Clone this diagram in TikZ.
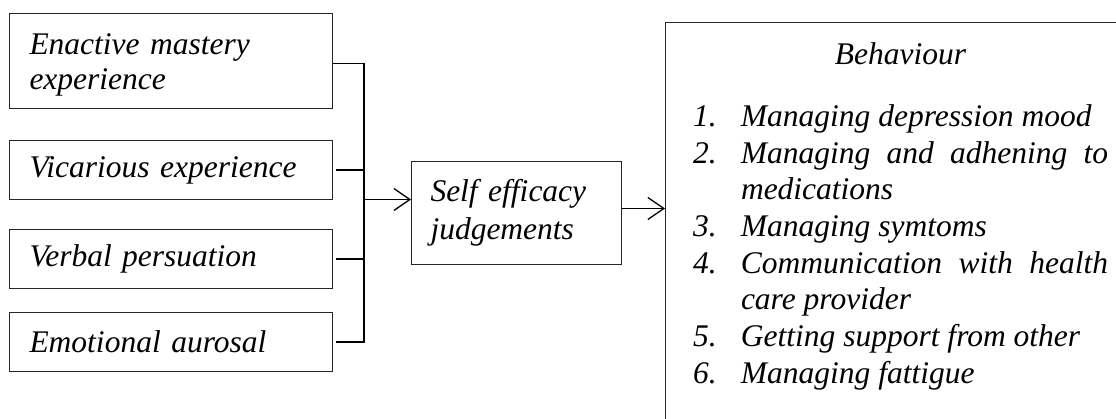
\documentclass[tikz,border=0pt]{standalone}
\usepackage{fontspec}
\setmainfont{Liberation Serif}
\usetikzlibrary{arrows.meta}
\tikzset{
  srcbox/.style={draw=black!85, line width=1pt, anchor=north west, inner xsep=20pt, inner ysep=0pt,
    align=left, font=\fontsize{31.5}{35}\selectfont\itshape},
  conn/.style={line width=1.5pt, black},
  arr/.style={conn, -{Straight Barb[length=16pt,width=22pt,line width=1.3pt]}},
}
\newcommand{\behitem}[2]{\noindent\hangindent=48pt\hangafter=1\makebox[48pt][l]{#1}#2\par}
\begin{document}
\begin{tikzpicture}[x=1pt,y=-1pt]
\useasboundingbox (0,0) rectangle (1116,419);
\clip (0,0) rectangle (1116,419);
% left boxes
\node[srcbox, minimum width=323pt, minimum height=95pt, text width=283pt] (e1) at (9,13) {\rule{0pt}{28pt}Enactive mastery\\experience};
\node[srcbox, minimum width=323pt, minimum height=59pt, text width=283pt] (e2) at (9,140) {Vicarious experience};
\node[srcbox, minimum width=323pt, minimum height=59pt, text width=283pt] (e3) at (9,229) {Verbal persuation};
\node[srcbox, minimum width=323pt, minimum height=59pt, text width=283pt] (e4) at (9,312) {Emotional aurosal};
% self efficacy
\node[srcbox, inner xsep=19pt, minimum width=210pt, minimum height=103pt, text width=172pt,
  font=\fontsize{31.5}{38}\selectfont\itshape] (se) at (411,161) {Self efficacy\\judgements};
% behaviour
\node[srcbox, inner ysep=20pt, minimum width=470pt, text width=415pt, align=justify] (beh) at (665,22) {%
  \noindent\makebox[415pt][c]{Behaviour}\par
  \vspace{25.3pt}
  \fontsize{31.5}{36.7}\selectfont
  \behitem{1.}{Managing depression mood}
  \behitem{2.}{Managing and adhening to\linebreak medications}
  \behitem{3.}{Managing symtoms}
  \behitem{4.}{Communication with health\linebreak care provider}
  \behitem{5.}{Getting support from other}
  \behitem{6.}{Managing fattigue}
  \rule{0pt}{80pt}};
% connectors
\coordinate (jx) at (364,0);
\draw[conn] ([yshift=-2.5pt]e1.east) -- ([yshift=-2.5pt]e1.east -| jx) -- (e4.east -| jx) -- ([xshift=3pt]e4.east);
\draw[conn] ([xshift=3pt]e2.east) -- (e2.east -| jx);
\draw[conn] ([xshift=3pt]e3.east) -- (e3.east -| jx);
\draw[arr] ([yshift=13.5pt]se.west -| jx) -- ([yshift=13.5pt]se.west);
\draw[arr] ([yshift=4.5pt]se.east) -- ([yshift=4.5pt]se.east -| beh.west);
\end{tikzpicture}
\end{document}
